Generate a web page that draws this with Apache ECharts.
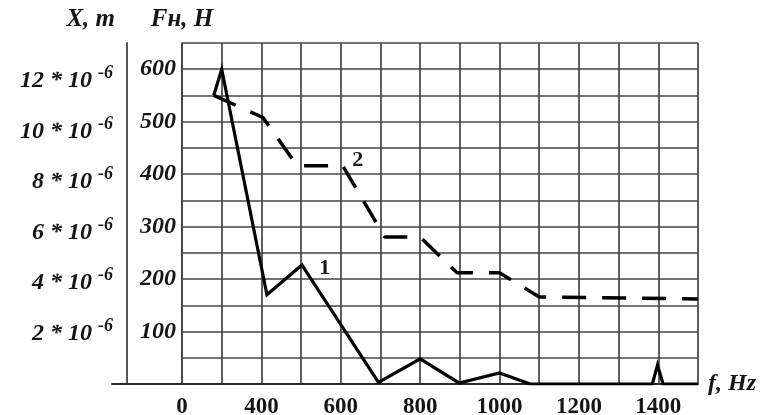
<!DOCTYPE html>
<html>
<head>
<meta charset="utf-8">
<script src="https://cdn.jsdelivr.net/npm/echarts@6/dist/echarts.min.js"></script>
<style>
  html, body { margin: 0; padding: 0; background: #fff; }
  #chart { width: 764px; height: 415px; }
</style>
</head>
<body>
<div id="chart"></div>
<script>
// Curve 1 (solid): load force Fн, H versus frequency f, Hz
const freqSolid  = [280, 300, 414, 502, 695, 800, 898, 1000, 1077, 1385, 1398, 1412, 1500];
const forceSolid = [550, 600, 170, 227,   3,  48,   2,   21,    0,    0,   36,    0,    0];

// Curve 2 (dashed)
const freqDashed  = [280, 404, 490, 605, 711, 800, 893, 1000, 1100, 1500];
const forceDashed = [550, 508, 416, 416, 280, 280, 212,  212,  166,  162];

// Tick labels
const freqTickValues = [200, 400, 600, 800, 1000, 1200, 1400];
const freqTickText   = ['0', '400', '600', '800', '1000', '1200', '1400'];
const forceTickValues = [100, 200, 300, 400, 500, 600];
const dispTickValues  = [2, 4, 6, 8, 10, 12];   // displacement X, in units of 10^-6 m

const FONT = "'Liberation Serif', 'Times New Roman', serif";
const INK = '#151515';
const GRIDLINE = '#444444';

const toPairs = (xs, ys) => xs.map((x, i) => [x, ys[i]]);

const solidData = toPairs(freqSolid, forceSolid);
solidData[3] = {
  value: solidData[3],
  label: { show: true, formatter: '1', position: 'inside', offset: [23, 3],
           fontFamily: FONT, fontWeight: 'bold', fontSize: 22, color: INK }
};
const dashedData = toPairs(freqDashed, forceDashed);
dashedData[3] = {
  value: dashedData[3],
  label: { show: true, formatter: '2', position: 'inside', offset: [15, -5],
           fontFamily: FONT, fontWeight: 'bold', fontSize: 22, color: INK }
};

const chart = echarts.init(document.getElementById('chart'), null, { renderer: 'canvas' });

chart.setOption({
  animation: false,
  backgroundColor: '#ffffff',
  grid: [
    { left: 182, right: 66, top: 43, bottom: 31, containLabel: false, outerBoundsMode: 'none' },
    { left: 112, width: 70, top: 43, bottom: 31, containLabel: false, outerBoundsMode: 'none' }
  ],
  xAxis: [
    {
      type: 'value', gridIndex: 0,
      min: 200, max: 1500, interval: 100,
      name: 'f, Hz', nameLocation: 'end', nameGap: 10,
      nameTextStyle: { fontFamily: FONT, fontStyle: 'italic', fontWeight: 'bold', fontSize: 24, color: INK, padding: [5, 0, 0, 0] },
      axisLine: { show: true, onZero: false, lineStyle: { color: '#2a2a2a', width: 2 } },
      axisTick: { show: false },
      axisLabel: {
        margin: 12,
        fontFamily: FONT, fontWeight: 'bold', fontSize: 23, color: INK,
        showMaxLabel: false,
        formatter: v => {
          const i = freqTickValues.indexOf(v);
          return i >= 0 ? freqTickText[i] : '';
        }
      },
      splitLine: { show: true, lineStyle: { color: GRIDLINE, width: 1.7 } }
    },
    {
      type: 'value', gridIndex: 1, min: 0, max: 1,
      axisLine: { show: true, onZero: false, lineStyle: { color: '#2a2a2a', width: 2 } },
      axisTick: { show: false }, axisLabel: { show: false }, splitLine: { show: false }
    }
  ],
  yAxis: [
    {
      type: 'value', gridIndex: 0,
      min: 0, max: 650, interval: 50,
      name: 'Fн, H', nameLocation: 'end', nameGap: 11,
      nameTextStyle: { fontFamily: FONT, fontStyle: 'italic', fontWeight: 'bold', fontSize: 25, color: INK, align: 'center' },
      axisLine: { show: true, lineStyle: { color: GRIDLINE, width: 1.7 } },
      axisTick: { show: false },
      axisLabel: {
        margin: 6,
        fontFamily: FONT, fontStyle: 'italic', fontWeight: 'bold', fontSize: 24, color: INK,
        formatter: v => forceTickValues.includes(v) ? String(v) : ''
      },
      splitLine: { show: true, lineStyle: { color: GRIDLINE, width: 1.7 } }
    },
    {
      type: 'value', gridIndex: 0,
      position: 'left', offset: 55,
      min: 0, max: 13.5, interval: 2,
      name: 'X, m', nameLocation: 'end', nameGap: 11,
      nameTextStyle: { fontFamily: FONT, fontStyle: 'italic', fontWeight: 'bold', fontSize: 25, color: INK, align: 'right', padding: [0, 12, 0, 0] },
      axisLine: { show: true, lineStyle: { color: '#555', width: 2 } },
      axisTick: { show: false },
      splitLine: { show: false },
      axisLabel: {
        margin: 14,
        showMaxLabel: false,
        formatter: v => dispTickValues.includes(v) ? `{b|${v} * 10}{s|-6}` : '',
        rich: {
          b: { fontFamily: FONT, fontStyle: 'italic', fontWeight: 'bold', fontSize: 24, color: INK },
          s: { fontFamily: FONT, fontStyle: 'italic', fontWeight: 'bold', fontSize: 18, color: INK, padding: [0, 0, 15, 6] }
        }
      }
    },
    { type: 'value', gridIndex: 1, show: false, min: 0, max: 1 }
  ],
  series: [
    {
      type: 'line', xAxisIndex: 0, yAxisIndex: 0,
      data: solidData,
      symbol: 'circle', symbolSize: 0, showSymbol: true,
      itemStyle: { color: '#000' },
      lineStyle: { color: '#000', width: 3.2, join: 'miter' },
      z: 5
    },
    {
      type: 'line', xAxisIndex: 0, yAxisIndex: 0,
      data: dashedData,
      symbol: 'circle', symbolSize: 0, showSymbol: true,
      itemStyle: { color: '#000' },
      lineStyle: { color: '#000', width: 3.5, type: [24, 16], cap: 'butt' },
      z: 4
    }
  ]
});
</script>
</body>
</html>
